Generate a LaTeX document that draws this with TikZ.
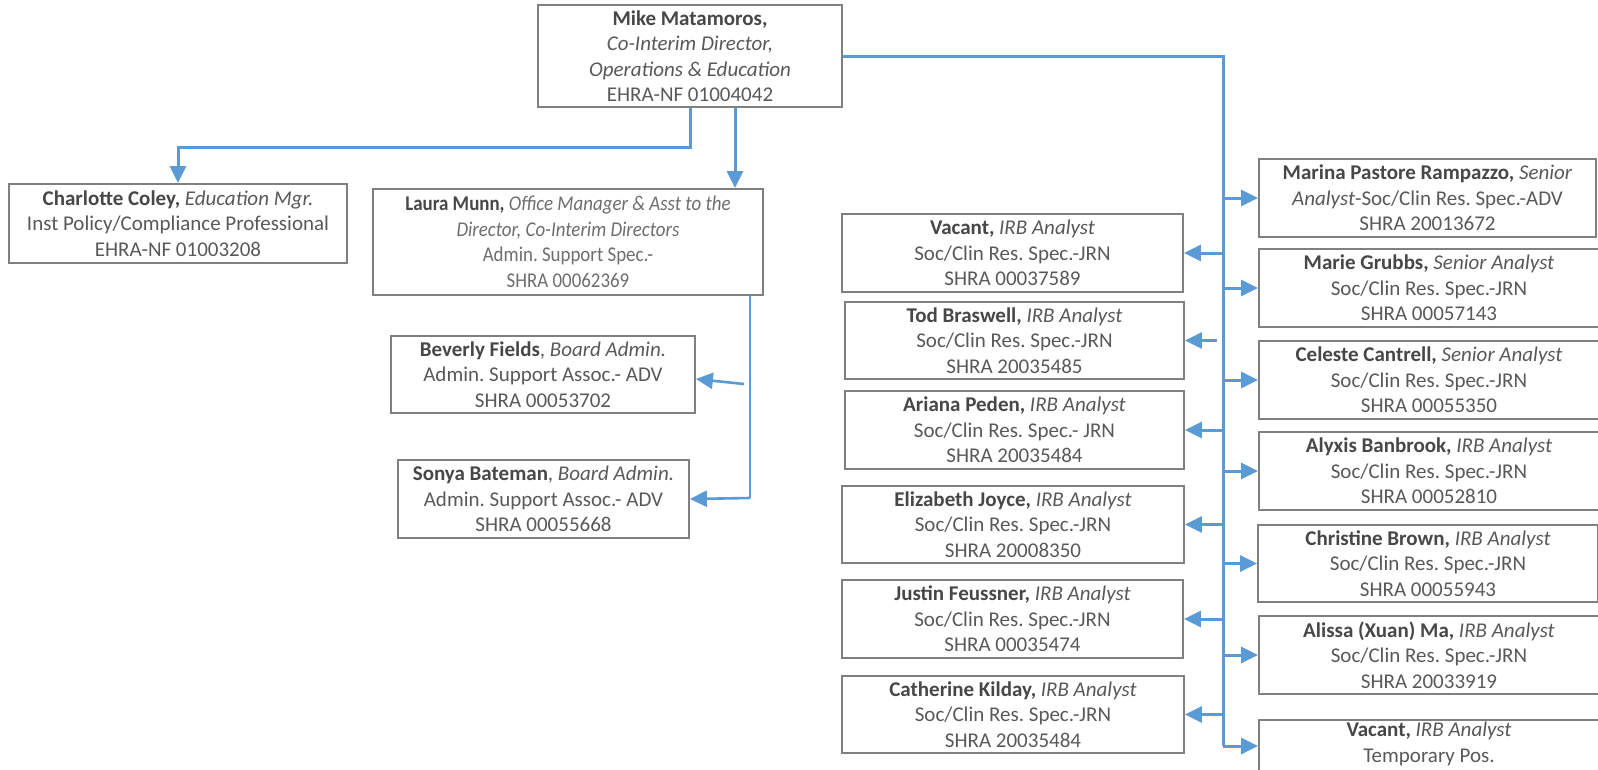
\documentclass[tikz,border=0pt]{standalone}
\usepackage{fontspec}
\setmainfont{Carlito}
\newfontfamily\narrowfont{Carlito}[FakeStretch=0.9]
\usetikzlibrary{arrows.meta,calc}
\definecolor{txt}{HTML}{595959}
\definecolor{namec}{HTML}{474747}
\definecolor{lighttxt}{HTML}{6E6E6E}
\definecolor{bord}{HTML}{808080}
\definecolor{conn}{HTML}{5B9BD5}
\newcommand{\nm}[1]{{\bfseries\color{namec}#1}}
\begin{document}
\frenchspacing
\begin{tikzpicture}[x=1pt,y=-1pt,
  box/.style={draw=bord, line width=1.8pt, fill=white, text=txt, align=center, inner sep=0pt,
    font=\frenchspacing\fontsize{21}{25.5}\selectfont},
  link/.style={draw=conn, line width=3pt},
  arr/.style={link, -{Triangle[length=17pt,width=16pt]}},
  thinl/.style={draw=conn, line width=1.3pt}]
\useasboundingbox (0,0) rectangle (1598,769);
\fill[white] (0,0) rectangle (1598,769);
\clip (0,0) rectangle (1598,769);

% top
\node[box, minimum width=304pt, minimum height=102pt] (mike) at (690,56)
  {\nm{Mike Matamoros,}\\ \textit{Co-Interim Director,}\\ \textit{Operations \& Education}\\ EHRA-NF 01004042};

% left branch
\node[box, minimum width=338pt, minimum height=79pt] (charlotte) at (178,223.5)
  {\nm{Charlotte Coley,} \textit{Education Mgr.}\\ Inst Policy/Compliance Professional\\ EHRA-NF 01003208};
\node[box, minimum width=390pt, minimum height=106pt, text=lighttxt, font=\frenchspacing\narrowfont\fontsize{21}{25.5}\selectfont] (laura) at (568,242)
  {\nm{Laura Munn,} \textit{Office Manager \& Asst to the}\\ \textit{Director, Co-Interim Directors}\\ Admin. Support Spec.-\\ SHRA 00062369};
\node[box, minimum width=304pt, minimum height=77pt] (beverly) at (543,374.5)
  {\nm{Beverly Fields}, \textit{Board Admin.}\\ Admin. Support Assoc.- ADV\\ SHRA 00053702};
\node[box, minimum width=291pt, minimum height=78pt] (sonya) at (543.5,499)
  {\nm{Sonya Bateman}, \textit{Board Admin.}\\ Admin. Support Assoc.- ADV\\ SHRA 00055668};

% middle column
\node[box, minimum width=341pt, minimum height=78pt] (vac1) at (1012.5,253)
  {\nm{Vacant,} \textit{IRB Analyst}\\ Soc/Clin Res. Spec.-JRN\\ SHRA 00037589};
\node[box, minimum width=339pt, minimum height=77pt] (tod) at (1014.5,340.5)
  {\nm{Tod Braswell,} \textit{IRB Analyst}\\ Soc/Clin Res. Spec.-JRN\\ SHRA 20035485};
\node[box, minimum width=339pt, minimum height=78pt] (ariana) at (1014.5,430)
  {\nm{Ariana Peden,} \textit{IRB Analyst}\\ Soc/Clin Res. Spec.- JRN\\ SHRA 20035484};
\node[box, minimum width=342pt, minimum height=77pt] (eliz) at (1013,524.5)
  {\nm{Elizabeth Joyce,} \textit{IRB Analyst}\\ Soc/Clin Res. Spec.-JRN\\ SHRA 20008350};
\node[box, minimum width=341pt, minimum height=78pt] (justin) at (1012.5,619)
  {\nm{Justin Feussner,} \textit{IRB Analyst}\\ Soc/Clin Res. Spec.-JRN\\ SHRA 00035474};
\node[box, minimum width=342pt, minimum height=77pt] (cath) at (1013,714.5)
  {\nm{Catherine Kilday,} \textit{IRB Analyst}\\ Soc/Clin Res. Spec.-JRN\\ SHRA 20035484};

% right column
\node[box, minimum width=337pt, minimum height=78pt] (marina) at (1427.5,198)
  {\nm{Marina Pastore Rampazzo,} \textit{Senior}\\ \textit{Analyst}-Soc/Clin Res. Spec.-ADV\\ SHRA 20013672};
\node[box, minimum width=340pt, minimum height=78pt] (marie) at (1429,288)
  {\nm{Marie Grubbs,} \textit{Senior Analyst}\\ Soc/Clin Res. Spec.-JRN\\ SHRA 00057143};
\node[box, minimum width=340pt, minimum height=78pt] (celeste) at (1429,380)
  {\nm{Celeste Cantrell,} \textit{Senior Analyst}\\ Soc/Clin Res. Spec.-JRN\\ SHRA 00055350};
\node[box, minimum width=340pt, minimum height=78pt] (alyxis) at (1429,471)
  {\nm{Alyxis Banbrook,} \textit{IRB Analyst}\\ Soc/Clin Res. Spec.-JRN\\ SHRA 00052810};
\node[box, minimum width=340pt, minimum height=77pt] (christine) at (1428,563.5)
  {\nm{Christine Brown,} \textit{IRB Analyst}\\ Soc/Clin Res. Spec.-JRN\\ SHRA 00055943};
\node[box, minimum width=340pt, minimum height=78pt] (alissa) at (1429,655)
  {\nm{Alissa (Xuan) Ma,} \textit{IRB Analyst}\\ Soc/Clin Res. Spec.-JRN\\ SHRA 20033919};
\node[box, minimum width=340pt, minimum height=78pt] (vac2) at (1429,759)
  {\nm{Vacant,} \textit{IRB Analyst}\\ Temporary Pos.\\ \strut};

% connectors
\coordinate (mR) at ([xshift=45pt]mike.south);
\draw[arr] (mike.south) -- ++(0,40) -| (charlotte.north);
\draw[arr] (mR) -- (mR |- laura.north);

\coordinate (sTop) at (1223,56);
\coordinate (sBot) at (1223,746);
\draw[link] (mike.east) -- (sTop) -- (sBot);

\foreach \n in {vac1,ariana,eliz,justin,cath}
  \draw[arr] (\n.east -| sTop) -- (\n.east);
\coordinate (todT) at (1217,340.5);
\draw[arr] (todT) -- (tod.east);
\foreach \n in {marina,marie,celeste,alyxis,christine,alissa}
  \draw[arr] (\n.west -| sTop) -- (\n.west);
\draw[arr] (sBot) -- (sBot -| vac2.west);

% Laura branch
\coordinate (lb) at (750,498);
\coordinate (bvT) at (744,384);
\draw[thinl] (laura.south -| lb) -- (lb);
\draw[arr, line width=2.6pt] (bvT) -- ($(beverly.east)+(0,4.5)$);
\draw[arr, line width=2.6pt] (lb) -- (sonya.east);
\end{tikzpicture}
\end{document}
